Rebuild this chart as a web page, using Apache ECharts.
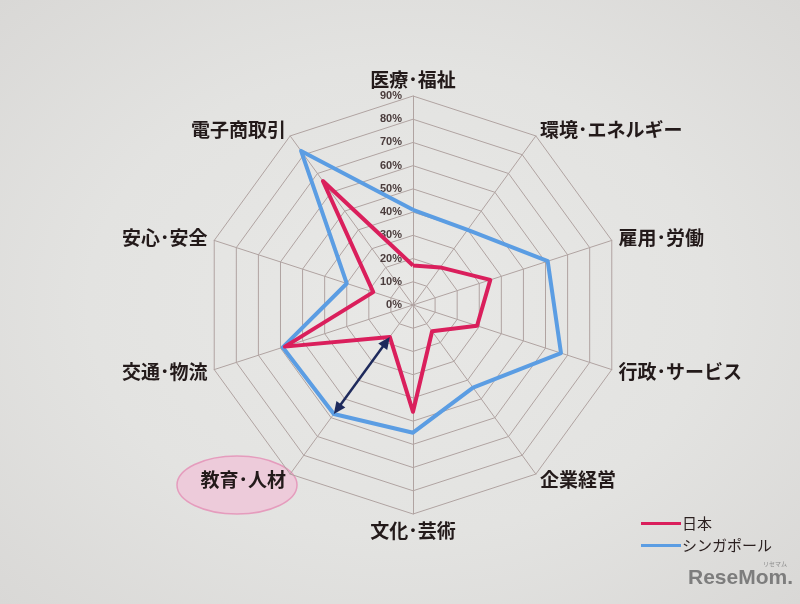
<!DOCTYPE html>
<html>
<head>
<meta charset="utf-8">
<script src="https://cdn.jsdelivr.net/npm/echarts@6/dist/echarts.min.js"></script>
<style>
html,body{margin:0;padding:0;width:800px;height:604px;overflow:hidden;
background:radial-gradient(ellipse at 50% 50%, #e8e8e6 0%, #e3e3e1 55%, #d9d8d6 100%);}
#c{width:800px;height:604px;}
</style>
</head>
<body>
<div id="c"></div>
<script>
// Categories in clockwise order starting from the top
const categories = ['医療･福祉','環境･エネルギー','雇用･労働','行政･サービス','企業経営','文化･芸術','教育･人材','交通･物流','安心･安全','電子商取引'];
const japan     = [17, 20, 35, 29, 14, 46, 17, 58, 18, 66];
const singapore = [41, 40, 61, 67, 44, 55, 58, 59, 30, 82];
const seriesNames = ['日本','シンガポール'];
const tickMax = 90;
const tickStep = 10;
const highlightCategory = '教育･人材';

// ECharts radar goes counter-clockwise; reorder to keep clockwise layout
const ccw = arr => [arr[0]].concat(arr.slice(1).reverse());
const radarCats = ccw(categories);

const FONT = '"Noto Sans CJK JP","Noto Sans",sans-serif';
const CENTER = [413, 305];
const RADIUS = 209;

const chart = echarts.init(document.getElementById('c'));
const option = {
  backgroundColor: 'transparent',
  animation: false,
  legend: {
    orient: 'vertical', left: 636, top: 511,
    itemWidth: 40, itemHeight: 3, icon: 'rect', itemGap: 7,
    data: seriesNames,
    textStyle: {fontSize: 15, color: '#2a1f1f', fontFamily: FONT, padding: [0,0,0,-4]}
  },
  radar: {
    center: CENTER, radius: RADIUS, startAngle: 90, splitNumber: tickMax / tickStep,
    shape: 'polygon', nameGap: 7,
    indicator: radarCats.map(n => ({name: n, min: 0, max: tickMax})),
    axisName: {color: '#231a1a', fontSize: 19, fontWeight: 'bold', fontFamily: FONT},
    splitLine: {lineStyle: {color: '#b0a3a1', width: 1}},
    splitArea: {show: false},
    axisLine: {lineStyle: {color: '#b0a3a1', width: 1}},
    axisTick: {show: false},
    axisLabel: {show: false}
  },
  polar: {center: CENTER, radius: RADIUS},
  angleAxis: {show: false, startAngle: 90, min: 0, max: 360},
  radiusAxis: {
    type: 'value', min: 0, max: tickMax, interval: tickStep,
    axisLine: {show: false}, axisTick: {show: false}, splitLine: {show: false},
    axisLabel: {formatter: '{value}%', fontSize: 11, fontWeight: 'bold', color: '#4a3c3c',
      fontFamily: '"Liberation Sans",Arial,sans-serif', margin: 11}
  },
  series: [{
    type: 'radar',
    symbol: 'none',
    z: 3,
    data: [
      {name: seriesNames[1], value: ccw(singapore), lineStyle: {color: '#5b9de3', width: 4}, itemStyle: {color: '#5b9de3'}},
      {name: seriesNames[0], value: ccw(japan), lineStyle: {color: '#da1f5c', width: 4}, itemStyle: {color: '#da1f5c'}}
    ]
  }],
  graphic: [
    {type: 'ellipse', shape: {cx: 237, cy: 485, rx: 60, ry: 29}, z: 0,
     style: {fill: '#edcbda', stroke: '#e59cbd', lineWidth: 1.5}},
    {type: 'text', left: 688, top: 568, z: 1,
     style: {text: 'ReseMom.', fill: '#7d7d7d', font: 'bold 21px "Liberation Sans",Arial,sans-serif'}},
    {type: 'text', left: 763, top: 561, z: 1,
     style: {text: 'リセマム', fill: '#8a8a8a', font: '6px "Noto Sans CJK JP",sans-serif'}}
  ]
};
chart.setOption(option);

// Double-headed arrow between the two series on the highlighted category
(function(){
  const cs = chart.getModel().getComponent('radar').coordinateSystem;
  const idx = radarCats.indexOf(highlightCategory);
  const ci = categories.indexOf(highlightCategory);
  const p1 = cs.dataToPoint(japan[ci], idx);
  const p2 = cs.dataToPoint(singapore[ci], idx);
  const dx = p2[0]-p1[0], dy = p2[1]-p1[1];
  const L = Math.sqrt(dx*dx+dy*dy), ux = dx/L, uy = dy/L;
  const px = -uy, py = ux;
  const hl = 12, hw = 5.5;
  const head = (t, dir) => {
    const bx = t[0] - dir*ux*hl, by = t[1] - dir*uy*hl;
    return [[t[0], t[1]], [bx + px*hw, by + py*hw], [bx - px*hw, by - py*hw]];
  };
  const col = '#1e2a5c';
  chart.setOption({graphic: option.graphic.concat([
    {type: 'line', z: 10, shape: {x1: p1[0]+ux*8, y1: p1[1]+uy*8, x2: p2[0]-ux*8, y2: p2[1]-uy*8},
     style: {stroke: col, lineWidth: 2.5}},
    {type: 'polygon', z: 10, shape: {points: head(p1, -1)}, style: {fill: col}},
    {type: 'polygon', z: 10, shape: {points: head(p2, 1)}, style: {fill: col}}
  ])});
})();
</script>
</body>
</html>
